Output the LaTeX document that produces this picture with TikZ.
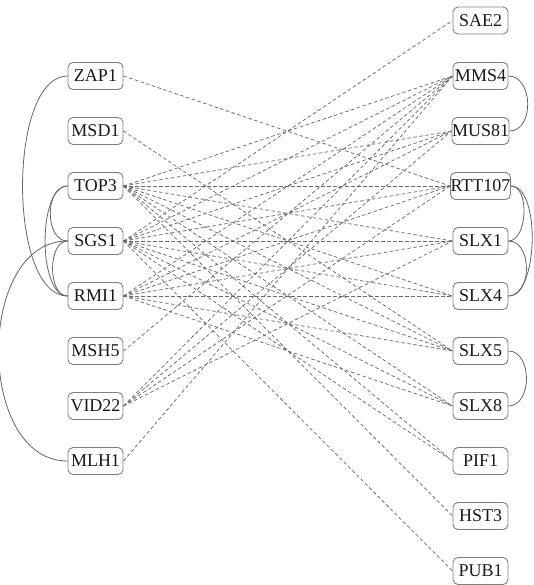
\documentclass[tikz,border=0pt]{standalone}
\usepackage{fontspec}
\setmainfont{Liberation Serif}
\begin{document}
\begin{tikzpicture}[x=1pt,y=-1pt,
 gene/.style={draw=black!50, line width=0.9pt, rounded corners=5pt, minimum width=55pt, minimum height=27pt, inner sep=0pt, fill=white, font=\fontsize{18}{18}\selectfont, text=black!90},
 gi/.style={draw=black!58, line width=0.75pt, dash pattern=on 3.5pt off 2.5pt},
 pint/.style={draw=black!60, line width=0.8pt}]
\useasboundingbox (0,0) rectangle (533,585);
% left column
\node[gene] (ZAP1)  at (95.5,76)  {ZAP1};
\node[gene] (MSD1)  at (95.5,131) {MSD1};
\node[gene] (TOP3)  at (95.5,186) {TOP3};
\node[gene] (SGS1)  at (95.5,241) {SGS1};
\node[gene] (RMI1)  at (95.5,296) {RMI1};
\node[gene] (MSH5)  at (95.5,351) {MSH5};
\node[gene] (VID22) at (95.5,406) {VID22};
\node[gene] (MLH1)  at (95.5,461) {MLH1};
% right column
\node[gene] (SAE2)   at (480.5,20.5) {SAE2};
\node[gene] (MMS4)   at (480.5,76)   {MMS4};
\node[gene] (MUS81)  at (480.5,131)  {MUS81};
\node[gene] (RTT107) at (480.5,186)  {RTT107};
\node[gene] (SLX1)   at (480.5,241)  {SLX1};
\node[gene] (SLX4)   at (480.5,296)  {SLX4};
\node[gene] (SLX5)   at (480.5,351)  {SLX5};
\node[gene] (SLX8)   at (480.5,406)  {SLX8};
\node[gene] (PIF1)   at (480.5,461)  {PIF1};
\node[gene] (HST3)   at (480.5,516)  {HST3};
\node[gene] (PUB1)   at (480.5,571)  {PUB1};
% dashed interactions
\foreach \a/\b in {ZAP1/RTT107, MSD1/SLX5,
  TOP3/MMS4, TOP3/MUS81, TOP3/RTT107, TOP3/SLX1, TOP3/SLX4, TOP3/SLX5, TOP3/SLX8, TOP3/PIF1, TOP3/HST3,
  SGS1/SAE2, SGS1/MMS4, SGS1/MUS81, SGS1/RTT107, SGS1/SLX1, SGS1/SLX4, SGS1/SLX5, SGS1/SLX8, SGS1/PIF1, SGS1/PUB1,
  RMI1/MMS4, RMI1/MUS81, RMI1/RTT107, RMI1/SLX1, RMI1/SLX4, RMI1/SLX5, RMI1/SLX8,
  MSH5/MMS4, VID22/MMS4, VID22/MUS81, VID22/RTT107, VID22/SLX1, MLH1/MMS4}
  \draw[gi] (\a.east) -- (\b.west);
% solid arcs, left
\draw[pint] (ZAP1.west) .. controls +(-60,0) and +(-60,0) .. (RMI1.west);
\draw[pint] (TOP3.west) .. controls +(-23,0) and +(-23,0) .. (SGS1.west);
\draw[pint] (TOP3.west) .. controls +(-30,0) and +(-30,0) .. (RMI1.west);
\draw[pint] (SGS1.west) .. controls +(-20,0) and +(-20,0) .. (RMI1.west);
\draw[pint] (SGS1.west) .. controls +(-92,0) and +(-92,0) .. (MLH1.west);
% solid arcs, right
\draw[pint] (MMS4.east) .. controls +(25,0) and +(25,0) .. (MUS81.east);
\draw[pint] (RTT107.east) .. controls +(19,0) and +(19,0) .. (SLX1.east);
\draw[pint] (RTT107.east) .. controls +(30,0) and +(30,0) .. (SLX4.east);
\draw[pint] (SLX1.east) .. controls +(24,0) and +(24,0) .. (SLX4.east);
\draw[pint] (SLX5.east) .. controls +(24,0) and +(24,0) .. (SLX8.east);
\end{tikzpicture}
\end{document}
